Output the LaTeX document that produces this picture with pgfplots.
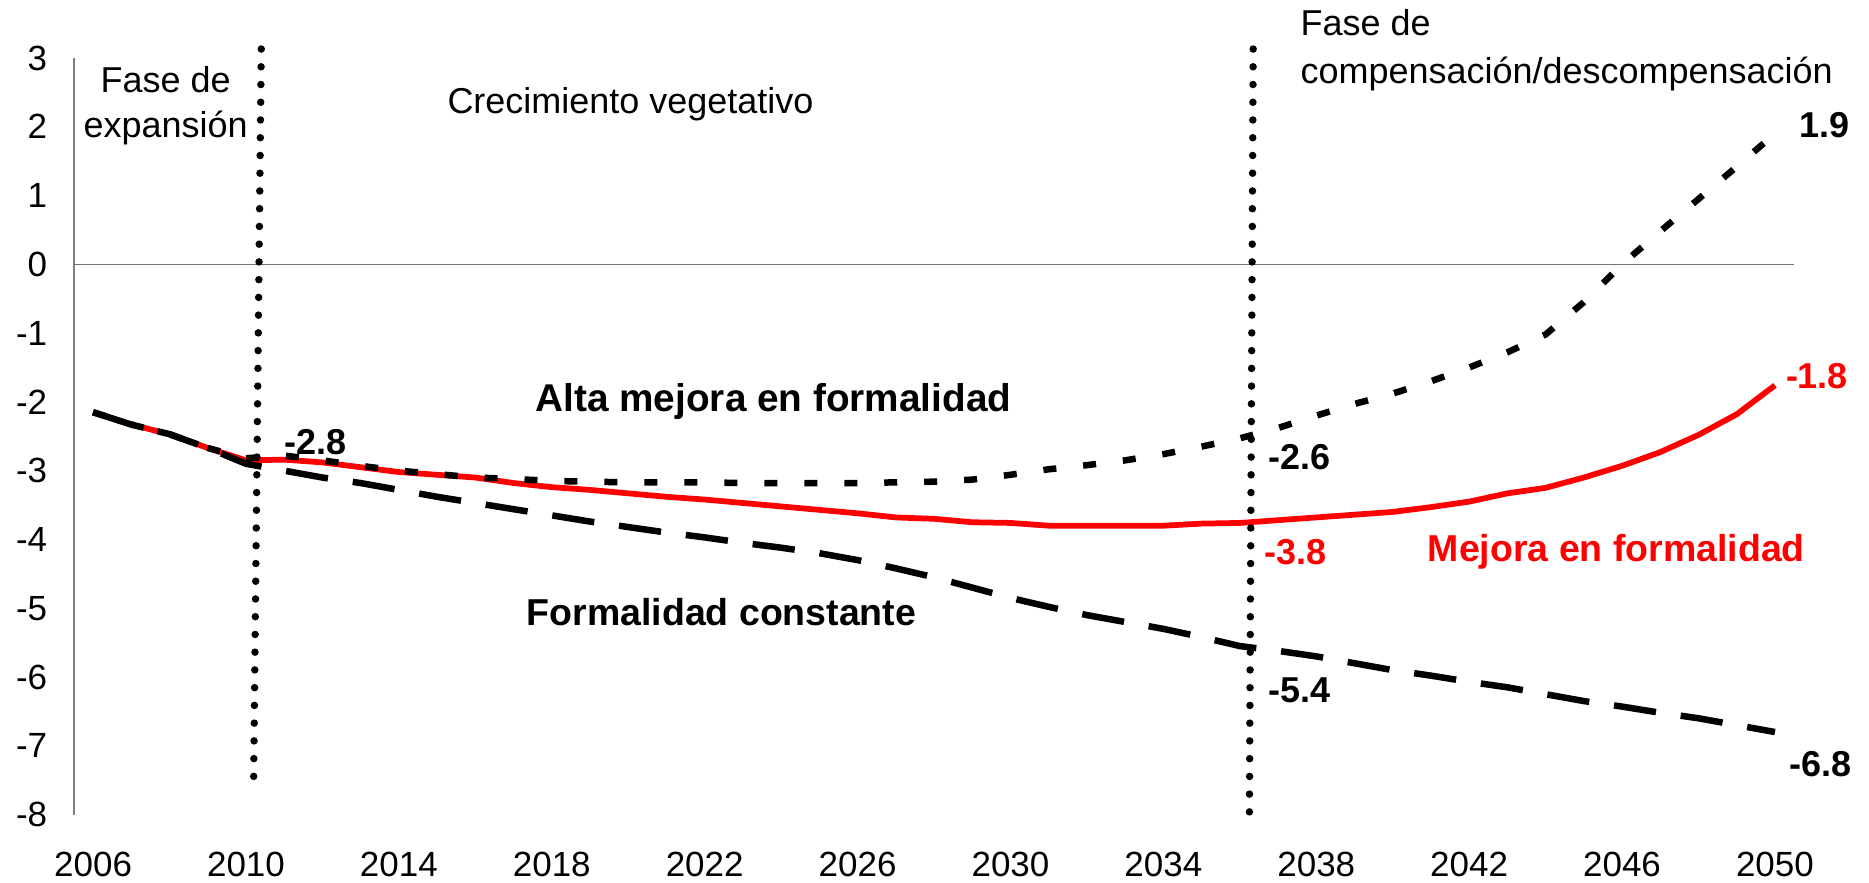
\documentclass[border=0pt]{standalone}
\usepackage{pgfplots}
\pgfplotsset{compat=1.18}
\usepackage{fontspec}
\setmainfont{Liberation Sans}
\begin{document}
\begin{tikzpicture}
\begin{axis}[
  name=ax,
  scale only axis,
  width=688.4pt, height=302.8pt,
  xmin=2005.5, xmax=2050.5,
  ymin=-8, ymax=3,
  clip=false,
  axis x line*=bottom,
  axis y line*=left,
  x axis line style={draw=none},
  y axis line style={draw=black!50, line width=0.6pt},
  major tick length=0pt,
  xtick={2006,2010,2014,2018,2022,2026,2030,2034,2038,2042,2046,2050},
  xticklabels={2006,2010,2014,2018,2022,2026,2030,2034,2038,2042,2046,2050},
  ytick={-8,-7,-6,-5,-4,-3,-2,-1,0,1,2,3},
  yticklabels={-8,-7,-6,-5,-4,-3,-2,-1,0,1,2,3},
  ticklabel style={font=\fontsize{14}{16}\selectfont},
  yticklabel style={xshift=-7.2pt},
  xticklabel style={yshift=-11.5pt},
  every node/.style={inner sep=0pt},
]
% zero line
\addplot[draw=black!55, line width=0.6pt] coordinates {(2005.5,0) (2050.5,0)};
% Mejora en formalidad (red)
\addplot[red, line width=2.3pt, line join=round] coordinates {
(2006,-2.15) (2007,-2.33) (2008,-2.47) (2009,-2.67) (2010,-2.85) (2011,-2.84) (2012,-2.88) (2013,-2.95) (2014,-3.02) (2015,-3.06)
(2016,-3.10) (2017,-3.18) (2018,-3.24) (2019,-3.28) (2020,-3.33) (2021,-3.38) (2022,-3.42) (2023,-3.47) (2024,-3.52) (2025,-3.57)
(2026,-3.62) (2027,-3.68) (2028,-3.70) (2029,-3.75) (2030,-3.76) (2031,-3.80) (2032,-3.80) (2033,-3.80) (2034,-3.80) (2035,-3.77)
(2036,-3.76) (2037,-3.72) (2038,-3.68) (2039,-3.64) (2040,-3.60) (2041,-3.53) (2042,-3.45) (2043,-3.33) (2044,-3.25) (2045,-3.10)
(2046,-2.93) (2047,-2.73) (2048,-2.48) (2049,-2.18) (2050,-1.76)};
% Formalidad constante (long dash)
\addplot[black, line width=2.6pt, dash pattern=on 17pt off 10pt] coordinates {
(2006,-2.15) (2007,-2.33) (2008,-2.47) (2009,-2.67) (2010,-2.90) (2011,-3.00) (2012,-3.10) (2013,-3.18) (2014,-3.28) (2015,-3.38)
(2016,-3.47) (2017,-3.56) (2018,-3.65) (2019,-3.74) (2020,-3.82) (2021,-3.90) (2022,-3.97) (2023,-4.05) (2024,-4.12) (2025,-4.20)
(2026,-4.30) (2027,-4.42) (2028,-4.55) (2029,-4.70) (2030,-4.85) (2031,-4.98) (2032,-5.10) (2033,-5.20) (2034,-5.30) (2035,-5.42)
(2036,-5.55) (2037,-5.62) (2038,-5.70) (2039,-5.80) (2040,-5.90) (2041,-5.98) (2042,-6.07) (2043,-6.15) (2044,-6.25) (2045,-6.35)
(2046,-6.43) (2047,-6.52) (2048,-6.60) (2049,-6.70) (2050,-6.80)};
% Alta mejora en formalidad (short dash)
\addplot[black, line width=2.6pt, dash pattern=on 5.2pt off 10.8pt] coordinates {
(2006,-2.15) (2007,-2.33) (2008,-2.47) (2009,-2.67) (2010,-2.82) (2011,-2.78) (2012,-2.85) (2013,-2.93) (2014,-3.00) (2015,-3.05)
(2016,-3.10) (2017,-3.12) (2018,-3.15) (2019,-3.16) (2020,-3.17) (2021,-3.17) (2022,-3.17) (2023,-3.18) (2024,-3.18) (2025,-3.18)
(2026,-3.18) (2027,-3.17) (2028,-3.16) (2029,-3.13) (2030,-3.06) (2031,-2.98) (2032,-2.92) (2033,-2.85) (2034,-2.76) (2035,-2.65)
(2036,-2.53) (2037,-2.38) (2038,-2.20) (2039,-2.03) (2040,-1.88) (2041,-1.70) (2042,-1.50) (2043,-1.28) (2044,-1.02) (2045,-0.55)
(2046,0.00) (2047,0.48) (2048,0.95) (2049,1.42) (2050,1.90)};
% phase separators (dotted)
\addplot[black, line width=3pt, line cap=round, dash pattern=on 0pt off 7.1pt] coordinates {(2010.4,3.13) (2010.2,-7.54)};
\addplot[black, line width=3pt, line cap=round, dash pattern=on 0pt off 7.1pt] coordinates {(2036.35,3.13) (2036.25,-8.1)};
% annotations
\node[align=center, font=\fontsize{14.4}{18}\selectfont] at (axis cs:2007.9,2.30) {Fase de\\expansión};
\node[font=\fontsize{14.4}{18}\selectfont] at (axis cs:2020.06,2.33) {Crecimiento vegetativo};
\node[anchor=west, align=left, font=\fontsize{14.4}{19.2}\selectfont] at (axis cs:2037.36,3.11) {Fase de\\compensación/descompensación};
\node[font=\bfseries\fontsize{15.5}{17}\selectfont] at (axis cs:2023.8,-2.0) {Alta mejora en formalidad};
\node[font=\bfseries\fontsize{15}{17}\selectfont] at (axis cs:2022.44,-5.05) {Formalidad constante};
\node[font=\bfseries\fontsize{15}{17}\selectfont, text=red] at (axis cs:2045.85,-4.18) {Mejora en formalidad};
\node[font=\bfseries\fontsize{14.4}{17}\selectfont] at (axis cs:2011.81,-2.58) {-2.8};
\node[font=\bfseries\fontsize{14.4}{17}\selectfont] at (axis cs:2037.57,-2.8) {-2.6};
\node[font=\bfseries\fontsize{14.4}{17}\selectfont, text=red] at (axis cs:2037.45,-4.19) {-3.8};
\node[font=\bfseries\fontsize{14.4}{17}\selectfont] at (axis cs:2037.57,-6.19) {-5.4};
\node[font=\bfseries\fontsize{14.4}{17}\selectfont] at (axis cs:2051.3,2.03) {1.9};
\node[font=\bfseries\fontsize{14.4}{17}\selectfont, text=red] at (axis cs:2051.1,-1.62) {-1.8};
\node[font=\bfseries\fontsize{14.4}{17}\selectfont] at (axis cs:2051.2,-7.27) {-6.8};
\end{axis}
\pgfresetboundingbox
\path[use as bounding box] ([xshift=-29.6pt,yshift=-27.2pt]ax.south west) rectangle ([xshift=30pt,yshift=23.2pt]ax.north east);
\end{tikzpicture}
\end{document}
